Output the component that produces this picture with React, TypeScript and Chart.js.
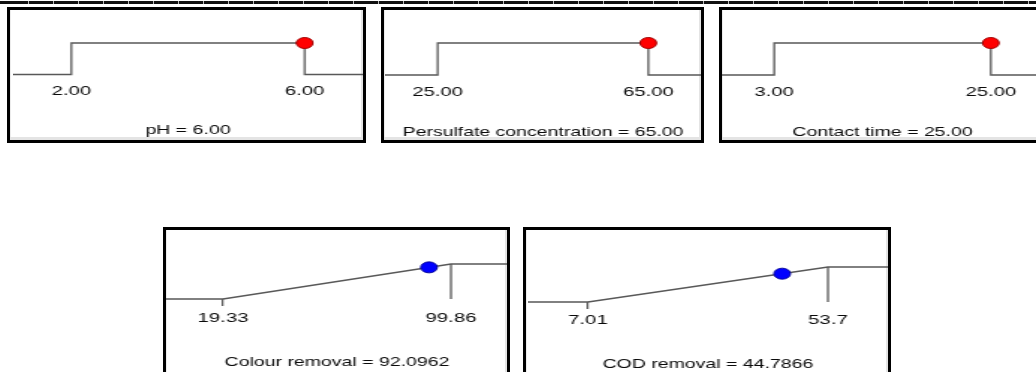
import React, { useEffect, useRef } from 'react';
import { Chart, registerables } from 'chart.js';

Chart.register(...registerables);

// ---------- data ----------
const factorNames = ['pH', 'Persulfate concentration', 'Contact time'];
const factorLow = [2, 25, 3];
const factorHigh = [6, 65, 25];
const factorValue = [6, 65, 25];

const responseNames = ['Colour removal', 'COD removal'];
const responseLow = [19.33, 7.01];
const responseHigh = [99.86, 53.7];
const responseValue = [92.0962, 44.7866];

// axis extends a quarter of the goal range on each side
const RANGE_PAD = 0.25;

// ---------- layout (page pixels) ----------
type Geo = {
  box: [number, number, number, number];
  L: number; R: number; T: number; B: number;
  labelY: number; titleY: number;
};
const factorGeo: Geo[] = [
  { box: [7, 7, 359, 136], L: 13, R: 363, T: 43, B: 74.5, labelY: 91, titleY: 130 },
  { box: [381, 7, 323, 136], L: 385, R: 701, T: 43, B: 75, labelY: 92, titleY: 132 },
  { box: [719, 7, 340, 136], L: 720, R: 1045, T: 43, B: 75, labelY: 92, titleY: 132 },
];
const responseGeo: Geo[] = [
  { box: [163, 227, 347, 160], L: 166, R: 508, T: 264, B: 299, labelY: 318, titleY: 362 },
  { box: [523, 227, 368, 160], L: 528, R: 888, T: 267, B: 302, labelY: 320, titleY: 364 },
];

const STRETCH = 1.5;
const FAMILY = "'Liberation Sans', Arial, sans-serif";
const TICK_FONT = { family: FAMILY, size: 13.5 };
const TITLE_FONT = { family: FAMILY, size: 13, weight: 'normal' as const };
const TEXT_COLOR = '#0a0a0a';
const LINE_COLOR = '#585858';
const LINE_W = 1.3;
const TICK_LEN = 7;

type PanelProps = {
  geo: Geo;
  low: number;
  high: number;
  value: number;
  kind: 'factor' | 'response';
  lowLabel: string;
  highLabel: string;
  title: string;
  color: string;
  edge: string;
};

function Panel({ geo, low, high, value, kind, lowLabel, highLabel, title, color, edge }: PanelProps) {
  const ref = useRef<HTMLCanvasElement | null>(null);
  const tlh = TICK_FONT.size * 1.2;
  const hlh = TITLE_FONT.size * 1.2;
  const topRoom = 20;
  const ctop = geo.T - topRoom;
  const ch = Math.round(geo.titleY + hlh / 2 + 2 - ctop);
  const dispW = geo.R - geo.L;
  const wl = Math.round(dispW / STRETCH);
  const sx = dispW / wl;

  useEffect(() => {
    const canvas = ref.current;
    if (!canvas) return;
    const span = high - low;
    const xMin = low - RANGE_PAD * span;
    const xMax = high + RANGE_PAD * span;

    const isResp = kind === 'response';
    const desir = isResp
      ? Math.max(0, Math.min(1, (value - low) / span))
      : value >= low && value <= high ? 1 : 0;

    const lineStyle = {
      showLine: true,
      borderColor: LINE_COLOR,
      borderWidth: LINE_W,
      pointRadius: 0,
      tension: 0,
      fill: false,
      clip: false as const,
      order: 1,
    };

    const datasets: any[] = [
      {
        data: [{ x: value, y: desir }],
        showLine: false,
        pointRadius: 5.5,
        pointBackgroundColor: color,
        pointBorderColor: edge,
        pointBorderWidth: 1,
        clip: false,
        order: 0,
      },
    ];
    if (!isResp) {
      datasets.push({
        ...lineStyle,
        data: [
          { x: xMin, y: 0 }, { x: low, y: 0 }, { x: low, y: 1 },
          { x: high, y: 1 }, { x: high, y: 0 }, { x: xMax, y: 0 },
        ],
      });
    } else {
      datasets.push({
        ...lineStyle,
        data: [{ x: xMin, y: 0 }, { x: low, y: 0 }, { x: high, y: 1 }, { x: xMax, y: 1 }],
      });
      datasets.push({
        ...lineStyle,
        data: [{ x: high, y: 1 }, { x: high, y: 0 }],
      });
    }

    // vertical bookkeeping in canvas coordinates
    const bRel = geo.B - ctop;
    const tl = isResp ? TICK_LEN : 0;
    const pad = geo.labelY - geo.B - tl - tlh / 2;
    const axisH = tl + 2 * pad + tlh;
    const titleBoxTop = bRel + axisH;
    const titlePadTop = geo.titleY - ctop - hlh / 2 - titleBoxTop;
    const titlePadBottom = ch - (geo.titleY - ctop) - hlh / 2;

    const chart = new Chart(canvas, {
      type: 'line',
      data: { datasets },
      options: {
        animation: false,
        responsive: false,
        maintainAspectRatio: false,
        devicePixelRatio: 1,
        events: [],
        layout: { autoPadding: false, padding: { top: topRoom, left: 0, right: 0, bottom: 0 } },
        plugins: {
          legend: { display: false },
          tooltip: { enabled: false },
          title: {
            display: true,
            position: 'bottom',
            text: title,
            font: TITLE_FONT,
            color: TEXT_COLOR,
            padding: { top: titlePadTop, bottom: titlePadBottom },
          },
        },
        scales: {
          x: {
            type: 'linear',
            min: xMin,
            max: xMax,
            border: { display: false },
            grid: isResp
              ? {
                  display: true,
                  drawOnChartArea: false,
                  drawTicks: true,
                  tickLength: TICK_LEN,
                  lineWidth: LINE_W,
                  color: (c: any) => (c.index === 0 ? LINE_COLOR : 'rgba(0,0,0,0)'),
                }
              : { display: false, drawTicks: false },
            afterBuildTicks: (scale: any) => {
              scale.ticks = [{ value: low }, { value: high }];
            },
            ticks: {
              padding: pad,
              font: TICK_FONT,
              color: TEXT_COLOR,
              maxRotation: 0,
              autoSkip: false,
              callback: (v: any) => (Number(v) === low ? lowLabel : highLabel),
            },
          },
          y: { type: 'linear', min: 0, max: 1, display: false },
        },
      },
    });
    return () => chart.destroy();
  }, []);

  const [bl, bt, bw, bh] = geo.box;
  return (
    <>
      <div
        style={{
          position: 'absolute', left: bl, top: bt, width: bw, height: bh,
          boxSizing: 'border-box', background: '#fff',
          boxShadow: 'inset 0 0 0 3px #000, inset -5px -6px 0 0 #e4e4e4, inset 4px 0 0 0 #ececec',
          zIndex: 0,
        }}
      />
      <canvas
        ref={ref}
        width={wl}
        height={ch}
        style={{
          position: 'absolute', left: geo.L, top: ctop, width: wl, height: ch,
          transform: `scaleX(${sx})`, transformOrigin: '0 0', zIndex: 1,
        }}
      />
      <div
        style={{
          position: 'absolute', left: bl, top: bt, width: bw, height: bh,
          boxSizing: 'border-box', border: '3px solid #000', zIndex: 2, pointerEvents: 'none',
        }}
      />
    </>
  );
}

export default function App() {
  return (
    <div
      style={{
        position: 'absolute', left: 0, top: 0, width: 1036, height: 372,
        overflow: 'hidden', background: '#fff',
      }}
    >
      <div
        style={{
          position: 'absolute', left: 0, top: 1, width: 1036, height: 3,
          background: 'repeating-linear-gradient(90deg, #111 0px, #111 24px, #bbb 24px, #bbb 25px)',
          backgroundPosition: '4px 0',
        }}
      />
      {factorNames.map((name, i) => (
        <Panel
          key={name}
          geo={factorGeo[i]}
          low={factorLow[i]}
          high={factorHigh[i]}
          value={factorValue[i]}
          kind="factor"
          lowLabel={factorLow[i].toFixed(2)}
          highLabel={factorHigh[i].toFixed(2)}
          title={`${name} = ${factorValue[i].toFixed(2)}`}
          color="#ff0000"
          edge="#a00000"
        />
      ))}
      {responseNames.map((name, i) => (
        <Panel
          key={name}
          geo={responseGeo[i]}
          low={responseLow[i]}
          high={responseHigh[i]}
          value={responseValue[i]}
          kind="response"
          lowLabel={String(responseLow[i])}
          highLabel={String(responseHigh[i])}
          title={`${name} = ${responseValue[i]}`}
          color="#0000ff"
          edge="#00009a"
        />
      ))}
    </div>
  );
}
